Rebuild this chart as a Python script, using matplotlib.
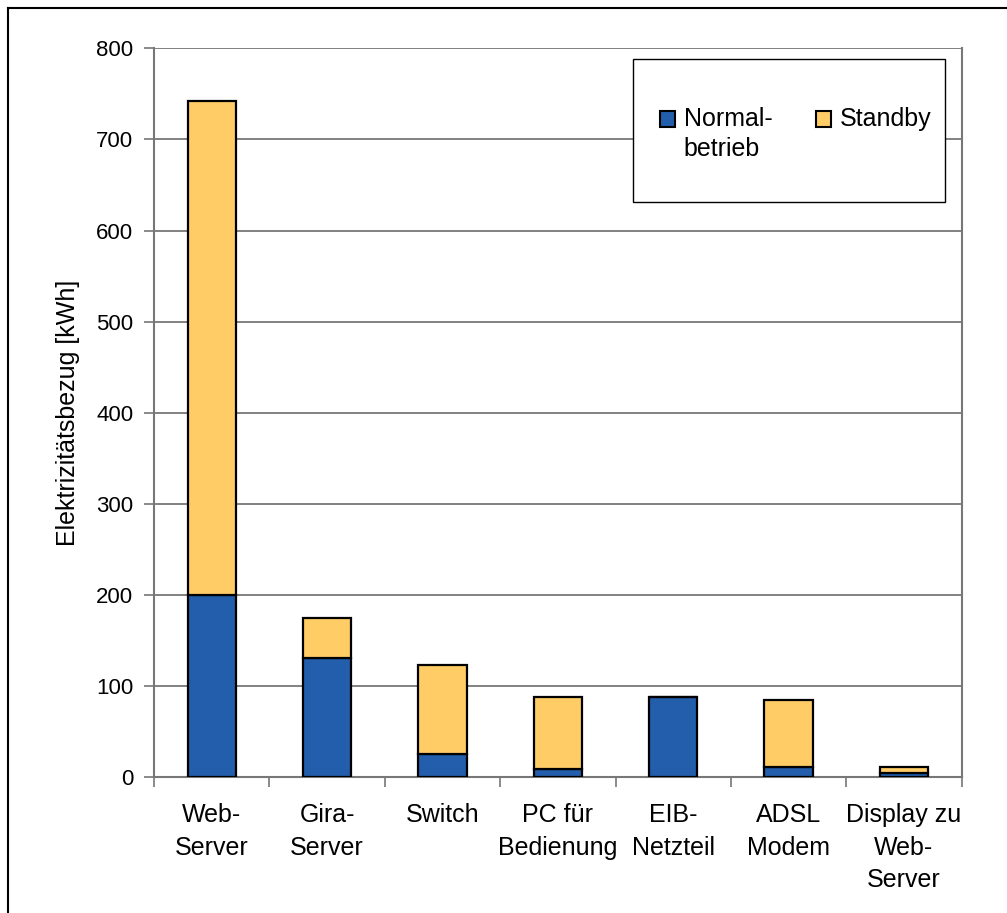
import numpy as np
import matplotlib
matplotlib.use("Agg")
import matplotlib.pyplot as plt
from matplotlib.lines import Line2D
from matplotlib.patches import Rectangle

plt.rcParams['font.family'] = ['Liberation Sans', 'DejaVu Sans']

# Data
categories = ["Web-\nServer", "Gira-\nServer", "Switch", "PC für\nBedienung",
              "EIB-\nNetzteil", "ADSL\nModem", "Display zu\nWeb-\nServer"]
normalbetrieb = [200, 131, 25, 9, 88, 11, 4]
standby = [542, 44, 98, 79, 0, 73, 7]
y_ticks = [0, 100, 200, 300, 400, 500, 600, 700, 800]

blue = "#225EAB"
yellow = "#FFCC66"
grey = "#777777"
DPI = 100

fig = plt.figure(figsize=(10.07, 9.13), dpi=DPI)
ax = fig.add_axes([0.153, 0.149, 0.802, 0.798])

x = np.arange(len(categories))
ax.bar(x, normalbetrieb, width=0.42, color=blue, edgecolor="black",
       linewidth=1.6, label="Normal-\nbetrieb", zorder=3)
ax.bar(x, standby, width=0.42, bottom=normalbetrieb, color=yellow,
       edgecolor="black", linewidth=1.6, label="Standby\n", zorder=3)

ax.set_xlim(-0.5, len(categories) - 0.5)
ax.set_ylim(0, 800)
ax.set_yticks(y_ticks)
ax.yaxis.grid(True, color=grey, linewidth=1.3, zorder=0)
ax.set_axisbelow(True)

# category labels at centres, tick marks at category boundaries
ax.set_xticks(x)
ax.set_xticklabels(categories, fontsize=18, linespacing=1.45)
ax.set_xticks(np.arange(len(categories) + 1) - 0.5, minor=True)
ax.tick_params(axis="x", which="major", length=0, pad=19)
ax.tick_params(axis="x", which="minor", length=7, width=1.2, color=grey)
ax.tick_params(axis="y", length=7, width=1.2, color=grey, labelsize=16, pad=8)

for side in ["left", "bottom", "right"]:
    ax.spines[side].set_color(grey)
    ax.spines[side].set_linewidth(1.5)
ax.spines["top"].set_visible(False)

ax.set_ylabel("Elektrizitätsbezug [kWh]", fontsize=18)
ax.yaxis.set_label_coords(-0.092, 0.5)

# legend frame drawn separately, entries placed inside it
ax.add_patch(Rectangle((0.593, 0.789), 0.386, 0.196, transform=ax.transAxes,
                       facecolor="white", edgecolor="black", linewidth=1.0,
                       zorder=4))
leg = ax.legend(loc="upper left", bbox_to_anchor=(0.626, 0.919), ncol=2,
                fontsize=18, frameon=False, borderpad=0, borderaxespad=0,
                handlelength=0.6, handleheight=0.6, handletextpad=0.36,
                columnspacing=1.75)
leg.set_zorder(5)
for t in leg.get_texts():
    t.set_linespacing(1.32)

fig.canvas.draw()
renderer = fig.canvas.get_renderer()
# move the square markers up to the first text line
for h, t in zip(leg.legend_handles, leg.get_texts()):
    tb = t.get_window_extent(renderer)
    hb = h.get_window_extent(renderer)
    shift_px = (tb.y1 - 4) - hb.y1
    h.set_y(h.get_y() + shift_px * 72 / DPI)
    h.set_linewidth(1.5)

# outer frame of the chart (left and top edges visible)
fig.add_artist(Line2D([8 / 1007, 8 / 1007], [0, 1 - 8 / 913], color="black",
                      linewidth=1.5, transform=fig.transFigure))
fig.add_artist(Line2D([8 / 1007, 1], [1 - 8 / 913, 1 - 8 / 913], color="black",
                      linewidth=1.5, transform=fig.transFigure))

fig.savefig("out.png", dpi=DPI)
